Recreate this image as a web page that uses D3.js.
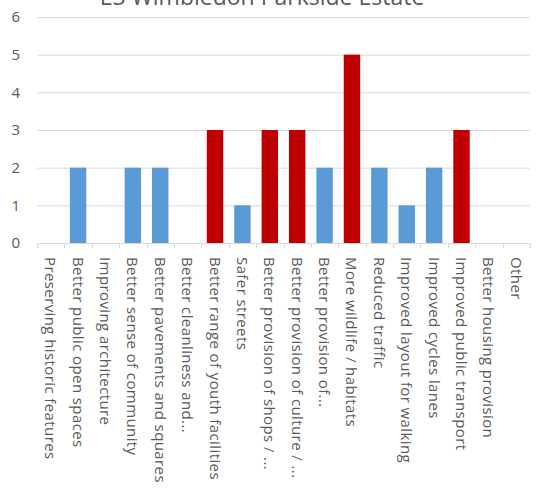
<!DOCTYPE html>
<html>
<head>
<meta charset="utf-8">
<script src="https://cdn.jsdelivr.net/npm/d3@7"></script>
<style>
  body { margin: 0; background: #fff; }
  text { font-family: "Open Sans", sans-serif; }
</style>
</head>
<body>
<div id="chart"></div>
<script>
// Data
var categories = [
  "Preserving historic features", "Better public open spaces", "Improving architecture",
  "Better sense of community", "Better pavements and squares", "Better cleanliness and...",
  "Better range of youth facilities", "Safer streets", "Better provision of shops / ...",
  "Better provision of culture / ...", "Better provision of...", "More wildlife / habitats",
  "Reduced traffic", "Improved layout for walking", "Improved cycles lanes",
  "Improved public transport", "Better housing provision", "Other"
];
var values = [0, 2, 0, 2, 2, 0, 3, 1, 3, 3, 2, 5, 2, 1, 2, 3, 0, 0];
var highlight = [0, 0, 0, 0, 0, 0, 1, 0, 1, 1, 0, 1, 0, 0, 0, 1, 0, 0];
var yTicks = [0, 1, 2, 3, 4, 5, 6];
var title = "E3 Wimbledon Parkside Estate";

var width = 538, height = 502;
var margin = {top: 17, right: 8, bottom: 259, left: 37};

var svg = d3.select("#chart")
  .append("svg")
    .attr("width", width)
    .attr("height", height);

var x = d3.scaleBand()
    .domain(d3.range(categories.length))
    .range([margin.left, width - margin.right])
    .paddingInner(0.4)
    .paddingOuter(0.2);

var y = d3.scaleLinear()
    .domain([0, 6])
    .range([height - margin.bottom, margin.top]);

// gridlines
svg.append("g")
  .selectAll("line")
  .data(yTicks.filter(d => d > 0))
  .join("line")
    .attr("x1", margin.left)
    .attr("x2", width - margin.right)
    .attr("y1", d => y(d) + 0.5)
    .attr("y2", d => y(d) + 0.5)
    .attr("stroke", "#d9d9d9")
    .attr("stroke-width", 1);

// bars
svg.append("g")
  .selectAll("rect")
  .data(values)
  .join("rect")
    .attr("x", (d, i) => x(i))
    .attr("width", x.bandwidth())
    .attr("y", d => y(d))
    .attr("height", d => y(0) - y(d))
    .attr("fill", (d, i) => highlight[i] ? "#c00000" : "#5b9bd5");

// x axis line + ticks at band edges
var step = x.step();
var x0 = margin.left;
var xa = svg.append("g");
xa.append("line")
    .attr("x1", x0).attr("x2", width - margin.right)
    .attr("y1", y(0) + 0.5).attr("y2", y(0) + 0.5)
    .attr("stroke", "#d9d9d9");
xa.selectAll("line.tick")
  .data(d3.range(categories.length + 1))
  .join("line")
    .attr("class", "tick")
    .attr("x1", i => Math.round(x0 + i * step) + 0.5)
    .attr("x2", i => Math.round(x0 + i * step) + 0.5)
    .attr("y1", y(0))
    .attr("y2", y(0) + 5)
    .attr("stroke", "#d9d9d9");

// category labels, rotated
xa.selectAll("text")
  .data(categories)
  .join("text")
    .attr("transform", (d, i) => `translate(${x(i) + x.bandwidth() / 2 - 5.5},${y(0) + 14}) rotate(90)`)
    .attr("text-anchor", "start")
    .attr("font-size", "15px")
    .attr("letter-spacing", "0.4px")
    .attr("fill", "#595959")
    .text(d => d);

// y axis labels
svg.append("g")
  .selectAll("text")
  .data(yTicks)
  .join("text")
    .attr("x", 20)
    .attr("y", d => y(d))
    .attr("dy", "0.35em")
    .attr("text-anchor", "end")
    .attr("font-size", "15px")
    .attr("fill", "#595959")
    .text(d => d);

// title, clipped at the top like the reference
svg.append("text")
    .attr("x", 262)
    .attr("y", 5)
    .attr("text-anchor", "middle")
    .attr("font-size", "23px")
    .attr("fill", "#595959")
    .text(title);
</script>
</body>
</html>
